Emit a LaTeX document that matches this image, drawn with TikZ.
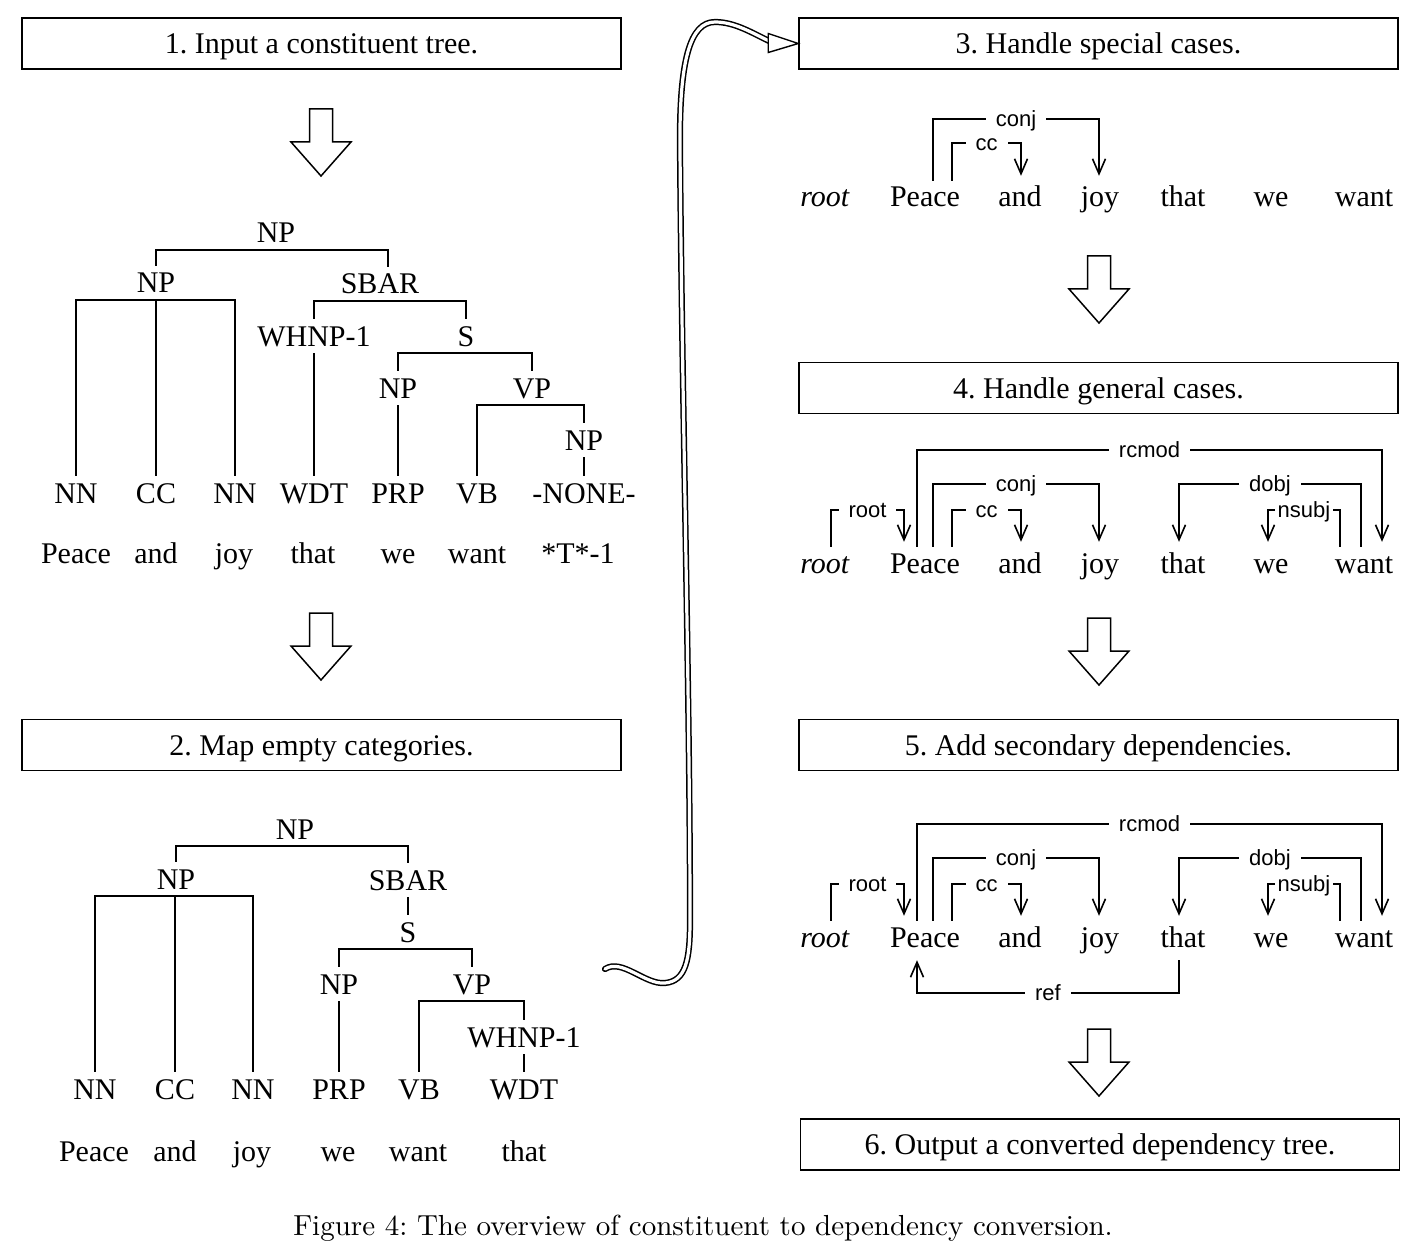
\documentclass[tikz,border=0pt]{standalone}
\usepackage{fontspec}
\setmainfont{Liberation Serif}
\setsansfont{Liberation Sans}
\newfontfamily\capfont{lmroman10-regular.otf}
\usetikzlibrary{arrows.meta,calc}
\frenchspacing
\tikzset{
  box/.style={draw, line width=1.5pt, minimum width=599pt, minimum height=51pt, inner sep=0pt,
    text height=20pt, text depth=0pt, font=\fontsize{30}{36}\selectfont},
  tn/.style={inner xsep=1pt, inner ysep=7pt, text height=20pt, text depth=0pt, font=\fontsize{30}{36}\selectfont},
  dw/.style={inner xsep=1pt, inner ysep=6pt, text height=20pt, text depth=0pt, font=\fontsize{30}{36}\selectfont},
  tl/.style={line width=1.8pt},
  dep/.style={line width=1.6pt, -{Straight Barb[length=15pt,width=13pt,line width=1.6pt]}},
  lbl/.style={fill=white, inner xsep=10pt, inner ysep=1pt, text height=15pt, text depth=0pt,
    font=\sffamily\fontsize{22}{26}\selectfont},
  dbl/.style={line width=1.5pt, double=white, double distance=3.2pt, line cap=round},
  blockarrow/.pic={\draw[line width=1.5pt, line join=miter, fill=white]
    (-11.5,0) -- (11.5,0) -- (11.5,33) -- (30,33) -- (0,67) -- (-30,33) -- (-11.5,33) -- cycle;}
}
\newcommand\tbrk[3]{\draw[tl] (#2.north) -- (#2.north |- #1.south) -- (#3.north |- #1.south) -- (#3.north);}
\newcommand\tuni[2]{\draw[tl] (#2.north |- #1.south) -- (#2.north);}
\newcommand\deparc[7][]{%
  \path ([xshift=#3pt]#2.north) coordinate (dsrc) ([xshift=#5pt,yshift=5pt]#4.north) coordinate (dtgt) (0,#6) coordinate (dlev);
  \draw[dep] (dsrc) -- (dsrc |- dlev) -- node[lbl,#1]{#7} (dtgt |- dlev) -- (dtgt);}
\newcommand\wordrow[2]{%
  \node[dw] (#1root) at (825,#2) {\textit{root}};
  \node[dw] (#1peace) at (925,#2) {Peace};
  \node[dw] (#1and) at (1020,#2) {and};
  \node[dw] (#1joy) at (1100,#2) {joy};
  \node[dw] (#1that) at (1183,#2) {that};
  \node[dw] (#1we) at (1271,#2) {we};
  \node[dw] (#1want) at (1364,#2) {want};}
\begin{document}
\begin{tikzpicture}[x=1pt,y=-1pt]
\fill[white] (0,0) rectangle (1428,1260);
\useasboundingbox (0,0) rectangle (1428,1260);

% ---- boxes
\node[box] (b1) at (321.5,43.5) {1. Input a constituent tree.};
\node[box] (b2) at (321.5,745) {2. Map empty categories.};
\node[box] (b3) at (1098.5,43.5) {3. Handle special cases.};
\node[box] (b4) at (1098.5,388) {4. Handle general cases.};
\node[box] (b5) at (1098.5,745) {5. Add secondary dependencies.};
\node[box] (b6) at (1100,1144.5) {6. Output a converted dependency tree.};

% ---- block arrows
\pic at (321,109) {blockarrow};
\pic at (321,613) {blockarrow};
\pic at (1099,256) {blockarrow};
\pic at (1099,618) {blockarrow};
\pic at (1099,1029) {blockarrow};

% ---- tree 1
\node[tn] (t1np) at (276,233) {NP};
\node[tn] (t1np2) at (156,283) {NP};
\node[tn] (t1sbar) at (380,284) {SBAR};
\node[tn] (t1whnp) at (314,336) {WHNP-1};
\node[tn] (t1s) at (466,336) {S};
\node[tn] (t1np3) at (398,388) {NP};
\node[tn] (t1vp) at (532,388) {VP};
\node[tn] (t1np4) at (584,440) {NP};
\node[tn] (t1nn1) at (76,493) {NN};
\node[tn] (t1cc) at (156,493) {CC};
\node[tn] (t1nn2) at (235,493) {NN};
\node[tn] (t1wdt) at (314,493) {WDT};
\node[tn] (t1prp) at (398,493) {PRP};
\node[tn] (t1vb) at (477,493) {VB};
\node[tn] (t1none) at (584,493) {-NONE-};
\node[tn] (t1w1) at (76,553) {Peace};
\node[tn] (t1w2) at (156,553) {and};
\node[tn] (t1w3) at (234,553) {joy};
\node[tn] (t1w4) at (313,553) {that};
\node[tn] (t1w5) at (398,553) {we};
\node[tn] (t1w6) at (477,553) {want};
\node[tn] (t1w7) at (578,553) {*T*-1};
\coordinate (t1sbarN) at ([xshift=8pt]t1sbar.north);
\draw[tl] (t1np2.north) -- (t1np2.north |- t1np.south) -- (t1sbarN |- t1np.south) -- (t1sbarN);
\tbrk{t1np2}{t1nn1}{t1nn2}
\tuni{t1np2}{t1cc}
\tbrk{t1sbar}{t1whnp}{t1s}
\tuni{t1whnp}{t1wdt}
\tbrk{t1s}{t1np3}{t1vp}
\tuni{t1np3}{t1prp}
\tbrk{t1vp}{t1vb}{t1np4}
\tuni{t1np4}{t1none}

% ---- tree 2
\node[tn] (t2np) at (295,829) {NP};
\node[tn] (t2np2) at (176,879) {NP};
\node[tn] (t2sbar) at (408,880) {SBAR};
\node[tn] (t2s) at (408,932) {S};
\node[tn] (t2np3) at (339,984) {NP};
\node[tn] (t2vp) at (472,984) {VP};
\node[tn] (t2whnp) at (524,1037) {WHNP-1};
\node[tn] (t2nn1) at (95,1089) {NN};
\node[tn] (t2cc) at (175,1089) {CC};
\node[tn] (t2nn2) at (253,1089) {NN};
\node[tn] (t2prp) at (339,1089) {PRP};
\node[tn] (t2vb) at (419,1089) {VB};
\node[tn] (t2wdt) at (524,1089) {WDT};
\node[tn] (t2w1) at (94,1151) {Peace};
\node[tn] (t2w2) at (175,1151) {and};
\node[tn] (t2w3) at (252,1151) {joy};
\node[tn] (t2w4) at (338,1151) {we};
\node[tn] (t2w5) at (418,1151) {want};
\node[tn] (t2w6) at (524,1151) {that};
\tbrk{t2np}{t2np2}{t2sbar}
\tbrk{t2np2}{t2nn1}{t2nn2}
\tuni{t2np2}{t2cc}
\tuni{t2sbar}{t2s}
\tbrk{t2s}{t2np3}{t2vp}
\tuni{t2np3}{t2prp}
\tbrk{t2vp}{t2vb}{t2whnp}
\tuni{t2whnp}{t2wdt}

% ---- diagram 3
\wordrow{d3}{197}
\deparc{d3peace}{8}{d3joy}{-1}{119}{conj}
\deparc{d3peace}{27}{d3and}{1}{143}{cc}

% ---- diagram 4
\wordrow{d4}{563}
\deparc{d4peace}{-8}{d4want}{18}{450}{rcmod}
\deparc{d4peace}{8}{d4joy}{-1}{484}{conj}
\deparc{d4peace}{27}{d4and}{1}{510}{cc}
\deparc{d4root}{6}{d4peace}{-21}{510}{root}
\deparc{d4want}{-3}{d4that}{-4}{484}{dobj}
\deparc[inner xsep=3pt]{d4want}{-24}{d4we}{-3}{510}{nsubj}

% ---- diagram 5
\wordrow{d5}{937}
\deparc{d5peace}{-8}{d5want}{18}{824}{rcmod}
\deparc{d5peace}{8}{d5joy}{-1}{858}{conj}
\deparc{d5peace}{27}{d5and}{1}{884}{cc}
\deparc{d5root}{6}{d5peace}{-21}{884}{root}
\deparc{d5want}{-3}{d5that}{-4}{858}{dobj}
\deparc[inner xsep=3pt]{d5want}{-24}{d5we}{-3}{884}{nsubj}
\path ([xshift=-4pt,yshift=-7pt]d5that.south) coordinate (dsrc)
      ([xshift=-8pt,yshift=-7pt]d5peace.south) coordinate (dtgt) (0,993) coordinate (dlev);
\draw[dep] (dsrc) -- (dsrc |- dlev) -- node[lbl]{ref} (dtgt |- dlev) -- (dtgt);

% ---- curvy double arrow
\coordinate (tail) at (605,969);
\draw[dbl] (tail) .. controls (622,958) and (645,985) .. (665,983)
  .. controls (686,981) and (690,960) .. (690,920)
  .. controls (690,700) and (682,400) .. (680,150)
  .. controls (679,60) and (690,22) .. (715,22)
  .. controls (735,22) and (752,33) .. ($(b3.west)+(-28,-2)$);
\draw[line width=1.4pt, line join=miter, fill=white] ($(b3.west)+(-30,-10)$) -- (b3.west) -- ($(b3.west)+(-30,9)$) -- cycle;

% ---- caption
\node[font=\capfont\fontsize{29}{34}\selectfont] (cap) at (703,1228) {Figure 4: The overview of constituent to dependency conversion.};
\end{tikzpicture}
\end{document}
